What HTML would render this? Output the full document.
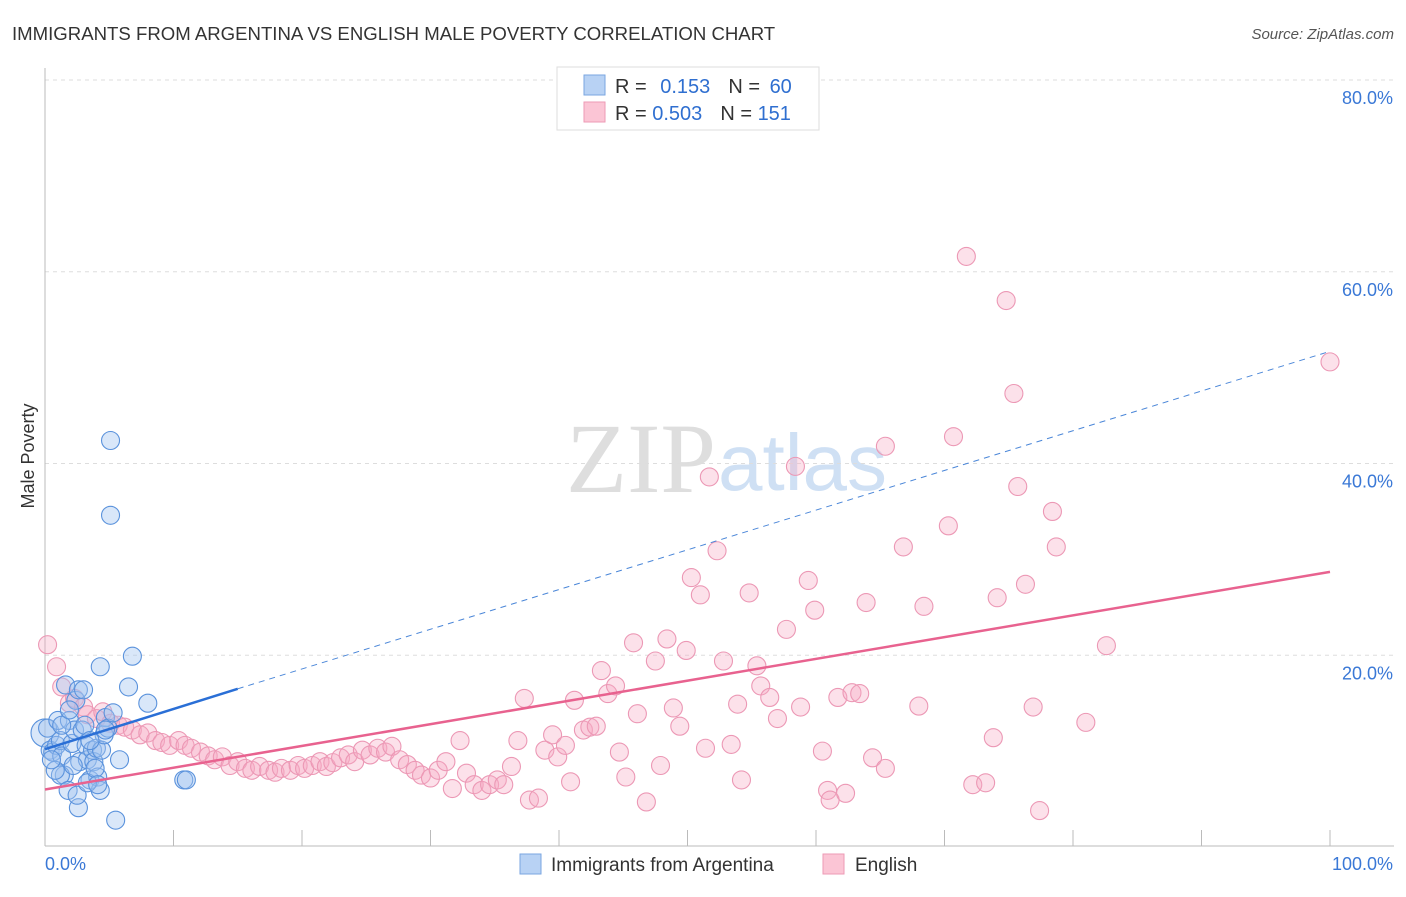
<!DOCTYPE html>
<html><head><meta charset="utf-8">
<style>
body{margin:0;background:#fff;font-family:"Liberation Sans",sans-serif;}
</style></head>
<body>
<svg id="chart" width="1406" height="892" viewBox="0 0 1406 892" xmlns="http://www.w3.org/2000/svg" font-family="Liberation Sans, sans-serif">
<text x="12" y="40" font-size="18.6" fill="#333">IMMIGRANTS FROM ARGENTINA VS ENGLISH MALE POVERTY CORRELATION CHART</text>
<text x="1394" y="39" font-size="15" fill="#555" font-style="italic" text-anchor="end">Source: ZipAtlas.com</text>
<text x="716" y="492" font-size="100" fill="#dedede" text-anchor="end" style="font-family:'Liberation Serif',serif">ZIP</text>
<text x="718" y="490" font-size="80" fill="#cfe0f4">atlas</text>
<g id="grid"></g>
<g id="axes"></g>
<g id="pinkpts"></g>
<g id="bluepts"></g>
<g id="lines"></g>
<text x="34" y="456" font-size="18" fill="#333" text-anchor="middle" transform="rotate(-90 34 456)">Male Poverty</text>
<g>
<rect x="557" y="67" width="262" height="63" fill="#fff" stroke="#ddd"/>
<rect x="584" y="75" width="21" height="20" fill="#b8d2f4" stroke="#7aa6e0"/>
<rect x="584" y="102" width="21" height="20" fill="#fbc5d5" stroke="#ee9ab5"/>
<text x="615" y="93" font-size="20" fill="#333">R = <tspan fill="#2f6fd0" dx="8">0.153</tspan><tspan fill="#333" dx="18">N = </tspan><tspan fill="#2f6fd0" dx="4">60</tspan></text>
<text x="615" y="120" font-size="20" fill="#333">R = <tspan fill="#2f6fd0">0.503</tspan><tspan fill="#333" dx="18">N = </tspan><tspan fill="#2f6fd0">151</tspan></text>
</g>
<g>
<rect x="520" y="854" width="21" height="20" fill="#b8d2f4" stroke="#7aa6e0"/>
<text x="551" y="871" font-size="19" fill="#333">Immigrants from Argentina</text>
<rect x="823" y="854" width="21" height="20" fill="#fbc5d5" stroke="#ee9ab5"/>
<text x="855" y="871" font-size="19" fill="#333">English</text>
</g>
</svg>
<script>
const yTicks=[20,40,60,80];
const yTickLabels=["20.0%","40.0%","60.0%","80.0%"];
const xTicks=[0,10,20,30,40,50,60,70,80,90,100];
const blueX=[0,0.2,0.4,0.6,0.9,1.0,1.2,1.3,1.5,1.6,1.9,2.1,2.3,2.4,2.6,2.7,2.9,3.0,3.2,3.3,3.5,3.7,3.8,4.0,4.1,4.3,4.4,4.6,4.7,4.9,5.1,5.1,4.3,5.3,5.5,5.8,6.5,6.8,8.0,10.8,11.0,1.2,0.8,1.8,2.6,2.5,3.3,3.9,4.1,0.5,1.3,1.9,3.1,3.5,4.7,2.2];
const blueY=[11.9,12.4,10.1,9.9,10.6,13.2,11.1,9.5,7.5,16.9,13.2,10.8,12.2,15.3,16.4,8.9,12.2,16.4,10.6,9.1,7.0,10.1,8.9,10.3,7.3,5.9,10.1,11.7,13.5,12.4,42.4,34.6,18.8,14.0,2.8,9.1,16.7,19.9,15.0,7.0,7.0,7.5,8.0,5.9,4.1,5.4,6.7,8.2,6.5,9.1,12.7,14.3,12.7,11.1,12.2,8.5];
const pinkX=[0.2,0.9,1.3,1.9,2.3,3.0,3.3,4.0,4.5,5.1,5.7,6.2,6.8,7.4,8.0,8.6,9.1,9.7,10.4,10.9,11.4,12.1,12.7,13.2,13.8,14.4,15.0,15.6,16.1,16.7,17.4,17.9,18.4,19.1,19.7,20.2,20.8,21.4,21.9,22.4,23.0,23.6,24.1,24.7,25.3,25.9,26.5,27.0,27.6,28.2,28.8,29.3,30.0,30.6,31.2,31.7,32.3,32.8,33.4,34.0,34.6,35.2,35.7,36.3,36.8,37.3,37.7,38.4,38.9,39.5,39.9,40.5,40.9,41.2,41.9,42.4,42.9,43.3,43.8,44.4,44.7,45.2,45.8,46.1,46.8,47.5,47.9,48.4,48.9,49.4,49.9,50.3,51.0,51.4,51.7,52.3,52.8,53.4,53.9,54.2,54.8,55.4,55.7,56.4,57.0,57.7,58.4,58.8,59.4,59.9,60.5,60.9,61.1,62.3,61.7,62.8,63.4,63.9,64.4,65.4,65.4,66.8,68.0,68.4,70.3,70.7,71.7,72.2,73.2,73.8,74.1,74.8,75.4,75.7,76.3,76.9,77.4,78.4,78.7,81.0,82.6,100];
const pinkY=[21.1,18.8,16.7,15.0,15.5,14.6,13.8,13.4,14.1,12.9,12.7,12.5,12.2,11.7,11.9,11.1,10.9,10.6,11.1,10.6,10.3,9.9,9.5,9.1,9.4,8.5,8.9,8.2,8.0,8.4,8.0,7.8,8.2,8.0,8.5,8.2,8.5,8.9,8.4,8.8,9.3,9.6,8.9,10.1,9.6,10.3,9.9,10.5,9.1,8.6,8.0,7.5,7.2,8.0,8.9,6.1,11.1,7.7,6.5,5.9,6.5,7.0,6.5,8.4,11.1,15.5,4.9,5.1,10.1,11.7,9.4,10.6,6.8,15.3,12.2,12.5,12.6,18.4,16.0,16.8,9.9,7.3,21.3,13.9,4.7,19.4,8.5,21.7,14.5,12.6,20.5,28.1,26.3,10.3,38.6,30.9,19.4,10.7,14.9,7.0,26.5,18.9,16.8,15.6,13.4,22.7,39.7,14.6,27.8,24.7,10.0,5.9,4.9,5.6,15.6,16.1,16.0,25.5,9.3,8.2,41.8,31.3,14.7,25.1,33.5,42.8,61.6,6.5,6.7,11.4,26.0,57.0,47.3,37.6,27.4,14.6,3.8,35.0,31.3,13.0,21.0,50.6];
const blueLine=[0,10.2,15,16.5,100,51.7];
const pinkLine=[0,6.0,100,28.7];

const NS="http://www.w3.org/2000/svg";
const X0=45,X1=1330,Y0=847,Ymax=80;
function xs(v){return X0+(X1-X0)*v/100;}
function ys(v){return Y0-(Y0-Ymax)*v/80;}
function mk(tag,attrs,parent){const e=document.createElementNS(NS,tag);for(const k in attrs)e.setAttribute(k,attrs[k]);parent.appendChild(e);return e;}
const grid=document.getElementById('grid'),axes=document.getElementById('axes');
yTicks.forEach((t,i)=>{
  const l=mk('line',{x1:45,x2:1394,y1:ys(t),y2:ys(t),stroke:'#ddd','stroke-dasharray':'4,4'},grid);
  
  
  const tx=mk('text',{x:1393,y:ys(t)+24,'font-size':18,fill:'#3a78d6','text-anchor':'end'},axes);
  tx.textContent=yTickLabels[i];
  
  
});
const ax=mk('line',{x1:45,x2:1394,y1:846,y2:846,stroke:'#bbb'},axes);


const ay=mk('line',{x1:45,x2:45,y1:68,y2:846,stroke:'#bbb'},axes);


xTicks.forEach(t=>{
  const l=mk('line',{x1:xs(t),x2:xs(t),y1:830,y2:846,stroke:'#bbb'},axes);
  
  
});
const xl0=mk('text',{x:45,y:870,'font-size':18,fill:'#3a78d6'},axes);xl0.textContent='0.0%';


const xl1=mk('text',{x:1393,y:870,'font-size':18,fill:'#3a78d6','text-anchor':'end'},axes);xl1.textContent='100.0%';


const pg=document.getElementById('pinkpts');
pinkX.forEach((v,i)=>{
  const c=mk('circle',{cx:xs(v),cy:ys(pinkY[i]),r:9,fill:'rgba(247,170,195,0.35)',stroke:'#ec98b5','stroke-width':1.1},pg);
  
  
});
const bg=document.getElementById('bluepts');
blueX.forEach((v,i)=>{
  const c=mk('circle',{cx:xs(v),cy:ys(blueY[i]),r:i==0?14:9,fill:'rgba(160,195,240,0.4)',stroke:'#5a92dc','stroke-width':1.1},bg);
  
  
});
const lg=document.getElementById('lines');
const bl1=mk('line',{x1:xs(blueLine[0]),y1:ys(blueLine[1]),x2:xs(blueLine[2]),y2:ys(blueLine[3]),stroke:'#2a6fd6','stroke-width':2.5},lg);


const bl2=mk('line',{x1:xs(blueLine[2]),y1:ys(blueLine[3]),x2:xs(blueLine[4]),y2:ys(blueLine[5]),stroke:'#4a86d8','stroke-width':1,'stroke-dasharray':'6,5'},lg);


const pl=mk('line',{x1:xs(pinkLine[0]),y1:ys(pinkLine[1]),x2:xs(pinkLine[2]),y2:ys(pinkLine[3]),stroke:'#e8628f','stroke-width':2.5},lg);


</script>
</body></html>
